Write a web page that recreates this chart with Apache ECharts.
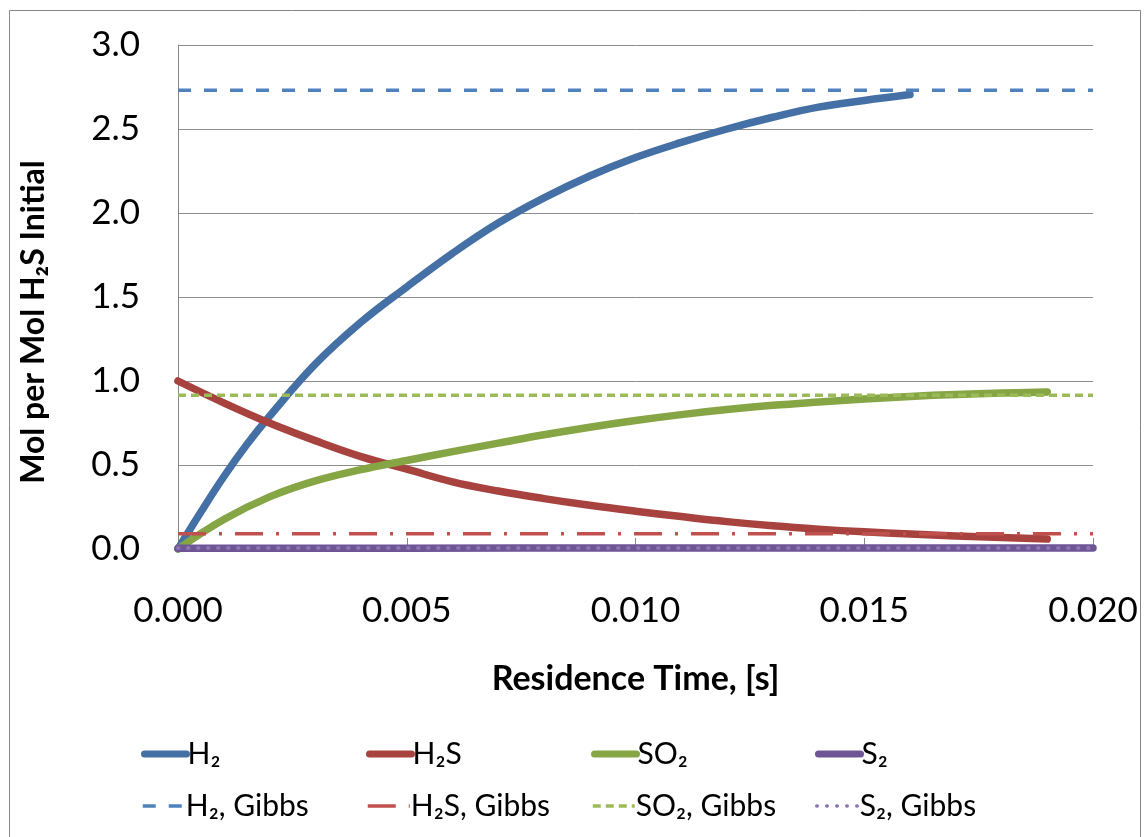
<!DOCTYPE html>
<html>
<head>
<meta charset="utf-8">
<script src="https://cdn.jsdelivr.net/npm/echarts@6/dist/echarts.min.js"></script>
<style>
  html, body { margin: 0; padding: 0; background: #fff; }
  #chart { width: 1144px; height: 837px; }
</style>
</head>
<body>
<div id="chart"></div>
<script>
// Residence time [s] and mol per mol H2S initial for each species
const h2Time  = [0, 0.0005, 0.001, 0.0015, 0.002, 0.003, 0.004, 0.005, 0.006, 0.007, 0.008, 0.009, 0.010, 0.011, 0.012, 0.013, 0.014, 0.015, 0.016];
const h2Vals  = [0, 0.22, 0.43, 0.62, 0.79, 1.10, 1.35, 1.56, 1.76, 1.94, 2.09, 2.22, 2.33, 2.42, 2.50, 2.57, 2.63, 2.67, 2.705];

const h2sTime = [0, 0.001, 0.002, 0.003, 0.004, 0.005, 0.006, 0.007, 0.008, 0.009, 0.010, 0.011, 0.012, 0.013, 0.014, 0.015, 0.016, 0.017, 0.018, 0.019];
const h2sVals = [1.0, 0.87, 0.75, 0.645, 0.55, 0.475, 0.40, 0.345, 0.30, 0.26, 0.225, 0.193, 0.163, 0.138, 0.118, 0.102, 0.09, 0.078, 0.068, 0.059];

const so2Time = [0, 0.001, 0.002, 0.003, 0.004, 0.005, 0.006, 0.007, 0.008, 0.009, 0.010, 0.011, 0.012, 0.013, 0.014, 0.015, 0.016, 0.017, 0.018, 0.019];
const so2Vals = [0, 0.175, 0.31, 0.405, 0.472, 0.527, 0.58, 0.63, 0.68, 0.725, 0.765, 0.80, 0.83, 0.855, 0.875, 0.893, 0.908, 0.92, 0.928, 0.935];

const s2Time  = [0, 0.005, 0.01, 0.015, 0.02];
const s2Vals  = [0.005, 0.005, 0.006, 0.006, 0.006];

// Equilibrium (Gibbs) levels, drawn across the full time range
const gibbsTime = [0, 0.02];
const h2Gibbs  = 2.73;
const h2sGibbs = 0.091;
const so2Gibbs = 0.915;
const s2Gibbs  = 0.006;

const xTicks = { min: 0, max: 0.02, step: 0.005 };
const yTicks = { min: 0, max: 3.0, step: 0.5 };

const names = ['H\u2082', 'H\u2082S', 'SO\u2082', 'S\u2082',
               'H\u2082, Gibbs', 'H\u2082S, Gibbs', 'SO\u2082, Gibbs', 'S\u2082, Gibbs'];

function pairs(ts, vs) { return ts.map((t, i) => [t, vs[i]]); }
function flat(v) { return gibbsTime.map(t => [t, v]); }

const FONT = 'Lato, "Open Sans", sans-serif';

const styles = [
  { color: '#4470A6', width: 7.5, type: 'solid', cap: 'round' },
  { color: '#A8423F', width: 7.5, type: 'solid', cap: 'round' },
  { color: '#86A544', width: 7.5, type: 'solid', cap: 'round' },
  { color: '#6E5696', width: 7.5, type: 'solid', cap: 'round' },
  { color: '#4F81BD', width: 3.5, type: [13, 13], cap: 'butt' },
  { color: '#C0504D', width: 3.5, type: [28, 13, 3, 13], cap: 'butt' },
  { color: '#9BBB59', width: 3.5, type: [8, 5], cap: 'butt' },
  { color: '#8C75AE', width: 4, type: [0.5, 9.5], cap: 'round' }
];

const seriesData = [
  pairs(h2Time, h2Vals), pairs(h2sTime, h2sVals), pairs(so2Time, so2Vals), pairs(s2Time, s2Vals),
  flat(h2Gibbs), flat(h2sGibbs), flat(so2Gibbs), flat(s2Gibbs)
];

const series = names.map((name, i) => ({
  name, type: 'line', data: seriesData[i], symbol: 'none',
  smooth: i < 4 ? 0.4 : false,
  z: i < 4 ? 2 : 3,
  lineStyle: { color: styles[i].color, width: styles[i].width, type: styles[i].type,
               cap: styles[i].cap, join: 'round' },
  itemStyle: { color: styles[i].color },
  emphasis: { disabled: true }
}));

// One legend box per entry so the two rows line up in columns
const legendCols = [136, 361, 586, 810];
const legendRows = [734, 786];
const legends = names.map((n, i) => ({
  data: [n],
  left: legendCols[i % 4],
  top: legendRows[Math.floor(i / 4)],
  itemWidth: 42, itemHeight: 14, itemGap: 4,
  selectedMode: false,
  itemStyle: { opacity: 0 },
  lineStyle: { color: styles[i].color, width: i < 4 ? 7 : 3.5, type: styles[i].type, cap: styles[i].cap },
  textStyle: { fontFamily: FONT, fontSize: 30, color: '#000', padding: [0, 0, 0, -4] }
}));

const chart = echarts.init(document.getElementById('chart'), null, { renderer: 'canvas' });
chart.setOption({
  animation: false,
  backgroundColor: '#fff',
  graphic: [{
    type: 'rect', silent: true, z: -1,
    shape: { x: 9.5, y: 10.5, width: 1131, height: 900 },
    style: { fill: 'none', stroke: '#868686', lineWidth: 1 }
  }],
  grid: { left: 178, right: 51, top: 45, bottom: 288, containLabel: false, outerBoundsMode: 'none' },
  legend: legends,
  xAxis: {
    type: 'value', min: xTicks.min, max: xTicks.max, interval: xTicks.step,
    name: 'Residence Time, [s]', nameLocation: 'middle', nameGap: 113,
    nameTextStyle: { fontFamily: FONT, fontSize: 34, fontWeight: 'bold', color: '#000' },
    axisLine: { show: true, onZero: false, lineStyle: { color: '#868686', width: 1 } },
    axisTick: { show: true, inside: true, length: 11, lineStyle: { color: '#868686' } },
    splitLine: { show: false },
    axisLabel: { fontFamily: FONT, fontSize: 35, color: '#000', margin: 44,
                 formatter: v => v.toFixed(3) }
  },
  yAxis: {
    type: 'value', min: yTicks.min, max: yTicks.max, interval: yTicks.step,
    name: 'Mol per Mol H\u2082S Initial', nameLocation: 'middle', nameGap: 128, nameRotate: 90,
    nameTextStyle: { fontFamily: FONT, fontSize: 32, fontWeight: 'bold', color: '#000', padding: [0, 50, 0, 0] },
    axisLine: { show: true, lineStyle: { color: '#868686', width: 1 } },
    axisTick: { show: false },
    splitLine: { show: true, lineStyle: { color: '#8c8c8c', width: 1 } },
    axisLabel: { fontFamily: FONT, fontSize: 35, color: '#000', margin: 38,
                 formatter: v => v.toFixed(1) }
  },
  series
});
</script>
</body>
</html>
